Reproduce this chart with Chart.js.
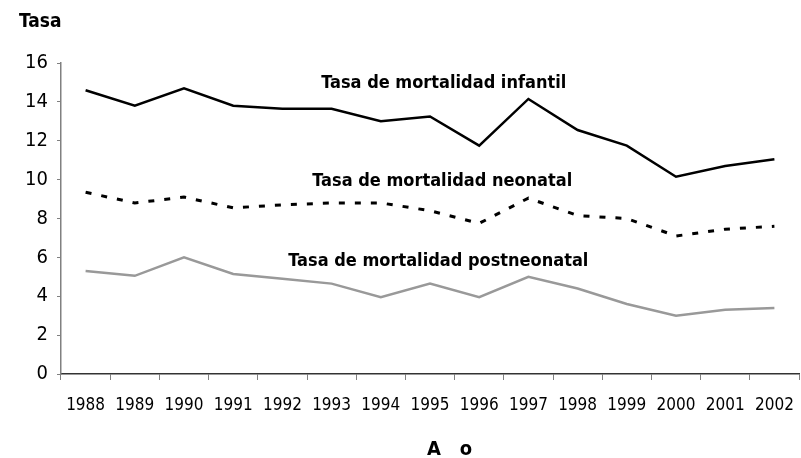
<!DOCTYPE html>
<html>
<head>
<meta charset="utf-8">
<script src="https://cdn.jsdelivr.net/npm/chart.js@4.4.1/dist/chart.umd.min.js"></script>
<style>
  html, body { margin: 0; padding: 0; background: #fff; }
  #wrap { width: 801px; height: 458px; }
</style>
</head>
<body>
<div id="wrap"><canvas id="chart" width="801" height="458"></canvas></div>
<script>
const years = ['1988', '1989', '1990', '1991', '1992', '1993', '1994', '1995', '1996', '1997', '1998', '1999', '2000', '2001', '2002'];
const infantil = [14.6, 13.8, 14.7, 13.8, 13.65, 13.65, 13.0, 13.25, 11.75, 14.15, 12.55, 11.75, 10.15, 10.7, 11.05];
const neonatal = [9.35, 8.8, 9.1, 8.55, 8.7, 8.8, 8.8, 8.4, 7.75, 9.05, 8.15, 8.0, 7.1, 7.45, 7.6];
const postneonatal = [5.3, 5.05, 6.0, 5.15, 4.9, 4.65, 3.95, 4.65, 3.95, 5.0, 4.4, 3.6, 3.0, 3.3, 3.4];
const seriesNames = ['Tasa de mortalidad infantil', 'Tasa de mortalidad neonatal', 'Tasa de mortalidad postneonatal'];

const FONT = "'Liberation Sans Narrow', 'DejaVu Sans Condensed', 'Arial Narrow', sans-serif";

// series names inside the plot + the two axis captions
const lineLabels = {
    id: 'lineLabels',
    afterDatasetsDraw(chart) {
        const { ctx, scales: { x, y } } = chart;
        const spots = [[7.28, 14.93], [7.25, 9.9], [7.17, 5.79]];
        ctx.save();
        ctx.font = 'bold 18px ' + FONT;
        ctx.fillStyle = '#000';
        ctx.textAlign = 'center';
        ctx.textBaseline = 'middle';
        seriesNames.forEach((name, i) => {
            ctx.fillText(name, x.getPixelForValue(spots[i][0]), y.getPixelForValue(spots[i][1]));
        });
        ctx.font = 'bold 19px ' + FONT;
        ctx.textAlign = 'left';
        ctx.fillText('Tasa', 19, 22);
        ctx.font = 'bold 20px ' + FONT;
        ctx.fillText('A   o', 427, 450);
        ctx.restore();
    }
};

new Chart(document.getElementById('chart'), {
    type: 'line',
    data: {
        labels: years,
        datasets: [
            { label: seriesNames[0], data: infantil, borderColor: '#000', borderWidth: 2.5 },
            { label: seriesNames[1], data: neonatal, borderColor: '#000', borderWidth: 3, borderDash: [6, 10] },
            { label: seriesNames[2], data: postneonatal, borderColor: '#999', borderWidth: 2.5 }
        ]
    },
    options: {
        responsive: false,
        animation: false,
        elements: { point: { radius: 0 }, line: { tension: 0 } },
        layout: { padding: { top: 63, right: 2, left: 0, bottom: 0 } },
        plugins: {
            legend: { display: false },
            tooltip: { enabled: false }
        },
        scales: {
            x: {
                offset: true,
                afterFit: (s) => { s.height = 84; s.paddingLeft = 0; s.paddingRight = 0; },
                grid: { offset: true, drawOnChartArea: false, drawTicks: true, tickLength: 6, color: '#808080' },
                border: { color: '#333', width: 1.5 },
                ticks: { autoSkip: false, maxRotation: 0, padding: 15, color: '#000', font: { family: FONT, size: 17 } }
            },
            y: {
                min: 0,
                max: 16,
                afterFit: (s) => { s.width = 61; },
                grid: { drawOnChartArea: false, drawTicks: true, tickLength: 4, color: '#808080' },
                border: { color: '#808080', width: 1.5 },
                ticks: { stepSize: 2, padding: 9, color: '#000', font: { family: FONT, size: 20 } }
            }
        }
    },
    plugins: [lineLabels]
});
</script>
</body>
</html>
